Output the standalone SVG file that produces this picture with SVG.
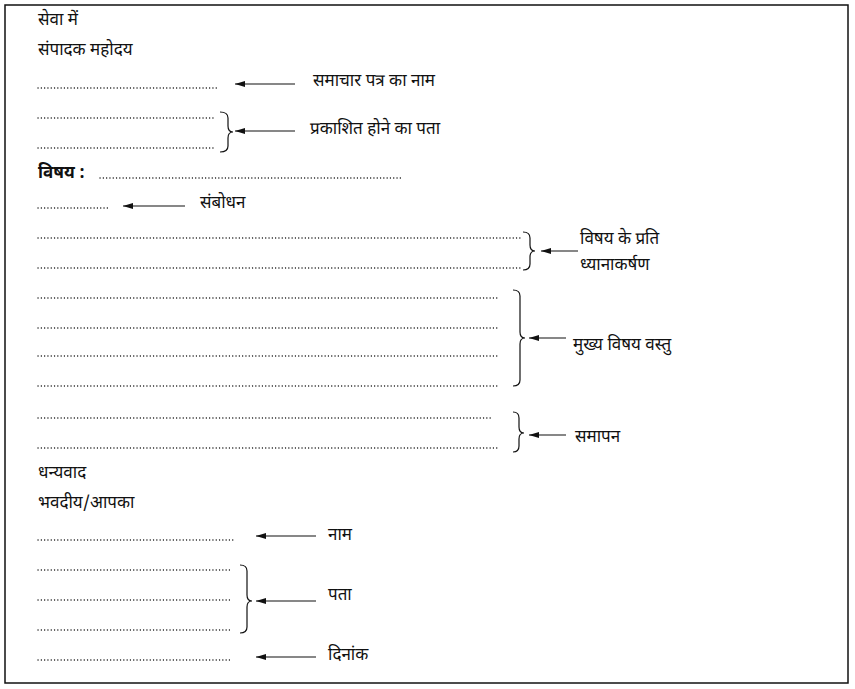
<svg xmlns="http://www.w3.org/2000/svg" width="855" height="689" viewBox="0 0 855 689">
<style>
text{font-family:"Noto Sans Devanagari","Noto Sans","Lohit Devanagari","DejaVu Sans",sans-serif;font-size:17px;fill:#111}
.d{stroke:#111;stroke-width:1.3;stroke-dasharray:0.1 3.2;stroke-linecap:round;fill:none}
.a{stroke:#111;stroke-width:1.2;fill:none;marker-end:url(#ah)}
.b{stroke:#111;stroke-width:1.2;fill:none}
</style>
<defs><marker id="ah" viewBox="0 0 10 6" refX="10" refY="3" markerWidth="10" markerHeight="6" markerUnits="userSpaceOnUse" orient="auto"><path d="M0,0L10,3L0,6z" fill="#111"/></marker></defs>
<rect x="5" y="5" width="843" height="678" fill="#fff" stroke="#111" stroke-width="1.5"/>
<g id="texts">
<text x="38" y="25">सेवा में</text>
<text x="38" y="55">संपादक महोदय</text>
<text x="313" y="86">समाचार पत्र का नाम</text>
<text x="310" y="134">प्रकाशित होने का पता</text>
<text x="38" y="178" font-weight="bold">विषय :</text>
<text x="200" y="208">संबोधन</text>
<text x="580" y="244">विषय के प्रति</text>
<text x="580" y="270">ध्यानाकर्षण</text>
<text x="573" y="350">मुख्य विषय वस्तु</text>
<text x="575" y="442">समापन</text>
<text x="38" y="478">धन्यवाद</text>
<text x="38" y="508">भवदीय/आपका</text>
<text x="328" y="540">नाम</text>
<text x="328" y="600">पता</text>
<text x="328" y="660">दिनांक</text>
</g>
<g id="dots">
<path class="d" d="M38 88H218M38 118H215M38 148H215M100 178H402M38 208H108M38 238H520M38 268H520M38 298H500M38 328H500M38 356H500M38 386H500M38 418H492M38 448H497M38 540H233M38 570H232M38 600H232M38 630H232M38 660H232"/>
</g>
<g id="braces">
<path class="b" d="M220 112Q228 112 228 118V126Q228 132 233 132Q228 132 228 138V146Q228 152 220 152"/>
<path class="b" d="M523 232Q530 232 530 238V245Q530 251 535 251Q530 251 530 257V264Q530 270 523 270"/>
<path class="b" d="M513 290Q520 290 520 296V332Q520 338 525 338Q520 338 520 344V380Q520 386 513 386"/>
<path class="b" d="M513 412Q519 412 519 418V427Q519 433 524 433Q519 433 519 439V446Q519 452 513 452"/>
<path class="b" d="M240 565Q247 565 247 571V595Q247 601 252 601Q247 601 247 607V627Q247 633 240 633"/>
</g>
<g id="connectors">
<path class="a" d="M295 84H235"/>
<path class="a" d="M295 131H235"/>
<path class="a" d="M185 206H123"/>
<path class="a" d="M578 251H541"/>
<path class="a" d="M566 338H529"/>
<path class="a" d="M566 435H529"/>
<path class="a" d="M316 536H256"/>
<path class="a" d="M316 601H256"/>
<path class="a" d="M316 657H256"/>
</g>
</svg>
